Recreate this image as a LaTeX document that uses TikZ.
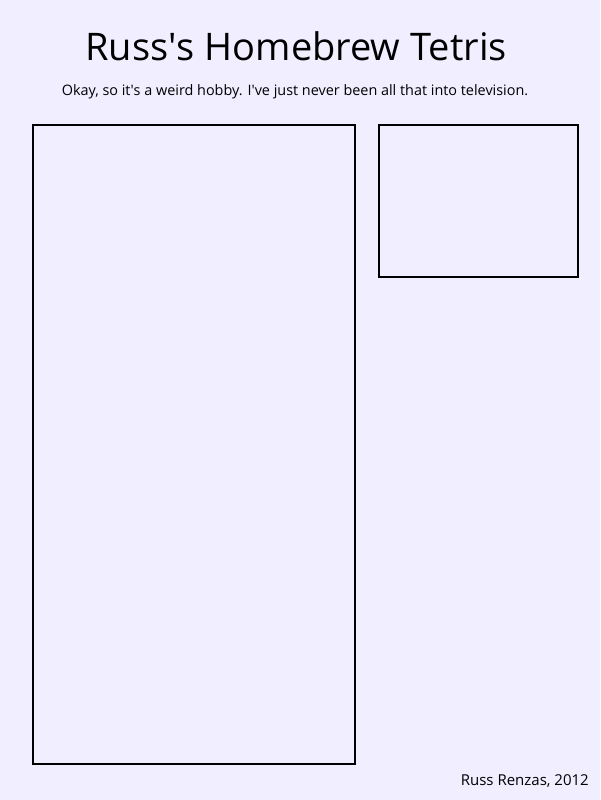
\documentclass[tikz,border=0pt]{standalone}
\usepackage{fontspec}
\setmainfont{Open Sans}
\usepackage{xcolor}
\usetikzlibrary{positioning}
\definecolor{pagebg}{HTML}{F0EEFF}
\newcommand{\apos}{\textquotesingle}
\begin{document}
\begin{tikzpicture}[x=1pt,y=-1pt,
well/.style={draw=black,line width=2pt,inner sep=0pt,outer sep=0pt,anchor=north west},
caption/.style={inner sep=0pt,text=black}]
\fill[pagebg] (0,0) rectangle (600,800);
\useasboundingbox (0,0) rectangle (600,800);
\node[caption,font=\fontsize{38}{44}\selectfont] (title) at (296,46) {Russ\apos s Homebrew Tetris};
\node[caption,font=\fontsize{14.4}{17}\selectfont] (subtitle) at (295,92) {Okay, so it\apos s a weird hobby. I\apos ve just never been all that into television.};
\node[well,minimum width=322pt,minimum height=639pt] (board) at (33,125) {};
\node[well,minimum width=199pt,minimum height=152pt,right=24pt of board.north east,anchor=north west] (preview) {};
\node[caption,font=\fontsize{15}{18}\selectfont,anchor=east] (credit) at (589,781) {Russ Renzas, 2012};
\end{tikzpicture}
\end{document}
